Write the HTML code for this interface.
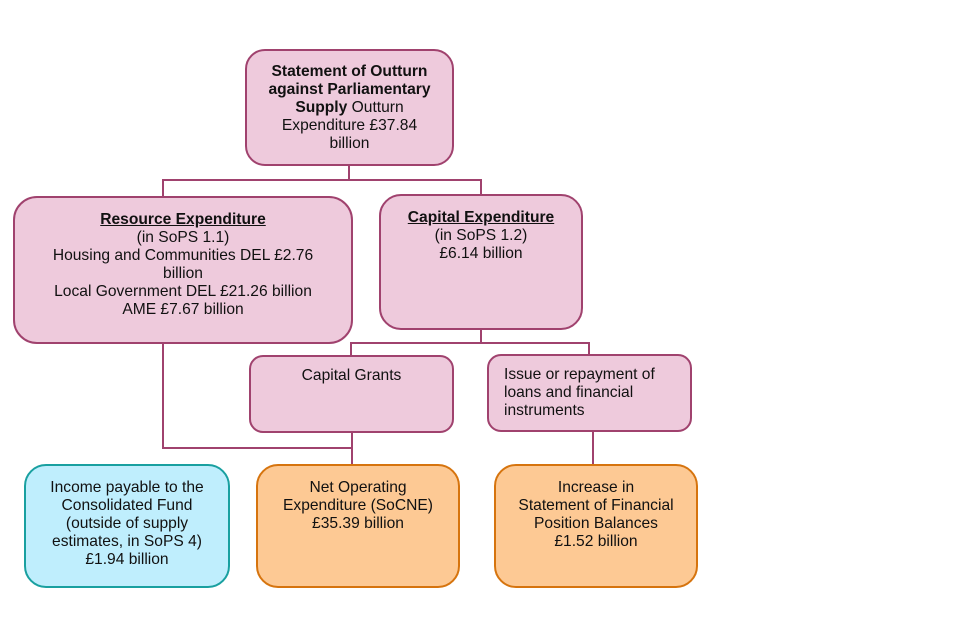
<!DOCTYPE html>
<html><head><meta charset="utf-8"><style>
body{margin:0;width:960px;height:640px;background:#fff;position:relative;overflow:hidden;font-family:"Liberation Sans",Arial,sans-serif;font-size:15.6px;color:#111}
.b{position:absolute;box-sizing:border-box;text-align:center;line-height:18px;padding-top:13px;white-space:nowrap}
.p{background:#eecadc;border:2px solid #a0426e}
.c{background:#bfeefd;border:2px solid #19a0a0}
.o{background:#fdc994;border:2px solid #d6740e}
svg{position:absolute;left:0;top:0}
</style></head><body>
<svg width="960" height="640"><g stroke="#a0426e" stroke-width="2" fill="none">
<path d="M349 165V180M163 197V180H481V195"/>
<path d="M481 329V343M351 356V343H589V355"/>
<path d="M163 343V448H352M352 432V466"/>
<path d="M593 431V466"/>
</g></svg>
<div class="b p" style="left:245px;top:49px;width:209px;height:117px;border-radius:20px;padding-top:12px"><b>Statement of Outturn<br>against Parliamentary<br>Supply</b> Outturn<br>Expenditure £37.84<br>billion</div>
<div class="b p" style="left:13px;top:196px;width:340px;height:148px;border-radius:24px"><b><u>Resource Expenditure</u></b><br>(in SoPS 1.1)<br>Housing and Communities DEL £2.76<br>billion<br>Local Government DEL £21.26 billion<br>AME £7.67 billion</div>
<div class="b p" style="left:379px;top:194px;width:204px;height:136px;border-radius:22px"><b><u>Capital Expenditure</u></b><br>(in SoPS 1.2)<br>£6.14 billion</div>
<div class="b p" style="left:249px;top:355px;width:205px;height:78px;border-radius:14px;padding-top:10px">Capital Grants</div>
<div class="b p" style="left:487px;top:354px;width:205px;height:78px;border-radius:14px;padding-top:10px;text-align:left;padding-left:15px">Issue or repayment of<br>loans and financial<br>instruments</div>
<div class="b c" style="left:24px;top:464px;width:206px;height:124px;border-radius:22px">Income payable to the<br>Consolidated Fund<br>(outside of supply<br>estimates, in SoPS 4)<br>£1.94 billion</div>
<div class="b o" style="left:256px;top:464px;width:204px;height:124px;border-radius:22px">Net Operating<br>Expenditure (SoCNE)<br>£35.39 billion</div>
<div class="b o" style="left:494px;top:464px;width:204px;height:124px;border-radius:22px">Increase in<br>Statement of Financial<br>Position Balances<br>£1.52 billion</div>
</body></html>
